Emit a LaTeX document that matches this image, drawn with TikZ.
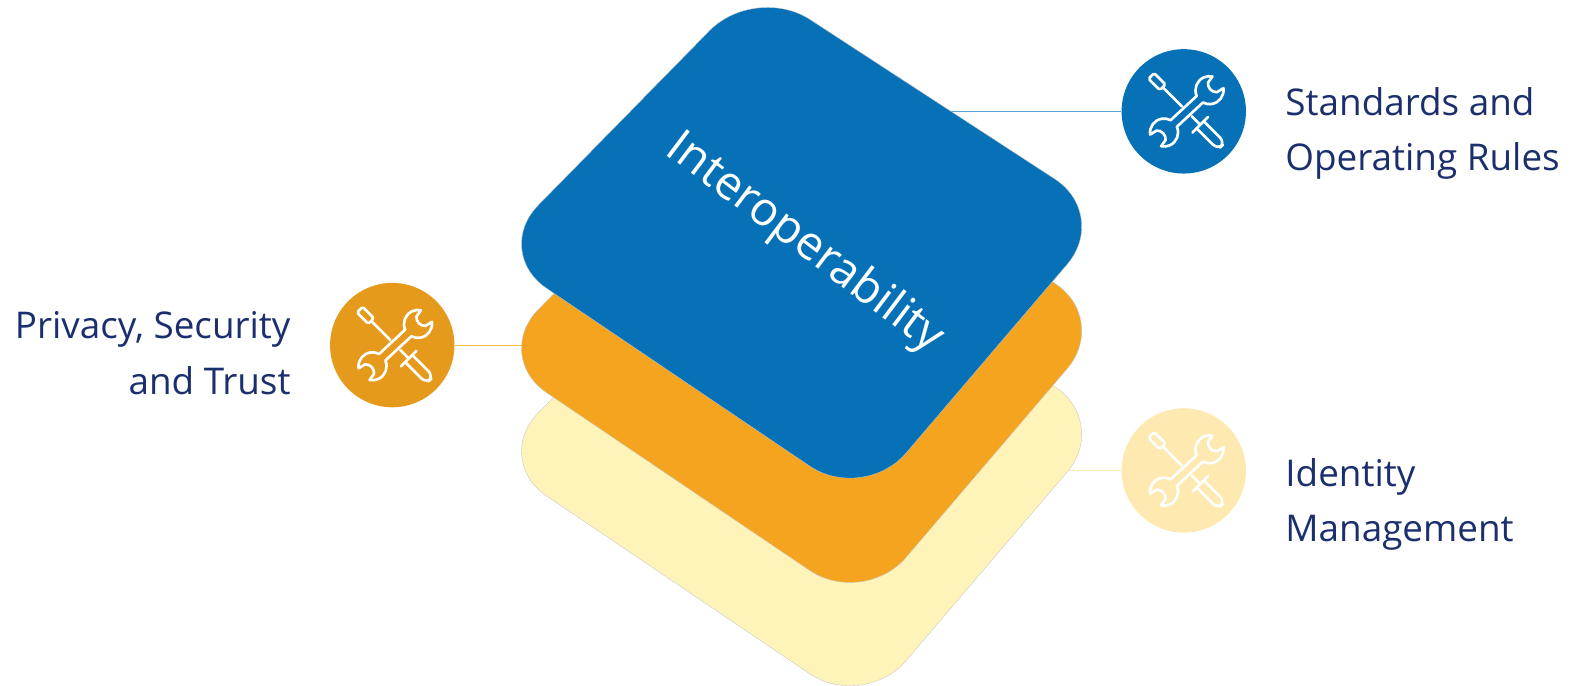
\documentclass[tikz,border=0pt]{standalone}
\usepackage{fontspec}
\setmainfont{Open Sans}
\definecolor{cardblue}{HTML}{0771B8}
\definecolor{cardorange}{HTML}{F4A41E}
\definecolor{cardyellow}{HTML}{FEF3B8}
\definecolor{circorange}{HTML}{E59A1C}
\definecolor{circyellow}{HTML}{FEE9B0}
\definecolor{labelnavy}{HTML}{1B2F6E}
\tikzset{
	card/.style={draw=gray!45,line width=0.2pt,rounded corners=1.3cm},
	toolcircle/.style={circle,minimum size=2.48cm,inner sep=0pt},
	link/.style={line width=0.6pt},
	sidelabel/.style={text=labelnavy,inner sep=0pt,font=\fontsize{20.9}{31.5}\selectfont},
	toolicon/.pic={
		\begin{scope}[x=0.02cm,y=0.02cm,xshift=0.06cm,white,line width=1.5pt,line join=round,line cap=round]
			% wrench
			\begin{scope}[rotate=43]
				\draw (17.7,4.5) arc[start angle=161,end angle=35,radius=14] -- (35,6.5) to[bend right=50] (35,-6.5) -- (42.5,-8)
					arc[start angle=-35,end angle=-161,radius=14] -- (-17.7,-4.5)
					arc[start angle=-19,end angle=-145,radius=14] -- (-35,-6.5) to[bend right=50] (-35,6.5) -- (-42.5,8)
					arc[start angle=145,end angle=19,radius=14] -- cycle;
			\end{scope}
			% screwdriver
			\begin{scope}[rotate=-45]
				\draw[rounded corners=1pt] (-50,-4) rectangle (-34,4);
				\draw (-34,0) -- (-7,0);
				\draw (7,0) -- (19,0);
				\draw (19,-11) -- (19,11);
				\draw[rounded corners=4pt] (19,-5) -- (49,-5) -- (49,5) -- (19,5);
			\end{scope}
		\end{scope}
	},
}
\begin{document}
\begin{tikzpicture}[x=0.02cm,y=-0.02cm]
	\useasboundingbox (0,0) rectangle (1568,683);

	% circles on both sides
	\node[toolcircle,fill=cardblue] (stdcircle) at (1180,111) {};
	\node[toolcircle,fill=circorange] (privcircle) at (391,344) {};
	\node[toolcircle,fill=circyellow] (idcircle) at (1180,469) {};

	\coordinate (stdend) at (945,111);
	\coordinate (privend) at (530,344);
	\coordinate (idend) at (1060,469);
	\draw[link,color=cardblue!65] (stdcircle) -- (stdend);
	\draw[link,color=cardorange!80] (privcircle) -- (privend);
	\draw[link,color=circyellow] (idcircle) -- (idend);

	% the three cards, lowest first
	\foreach \dy/\cardcol in {207/cardyellow,104/cardorange,0/cardblue}
		\draw[card,fill=\cardcol,shift={(0,\dy)}] (753,-16) -- (1106,214) -- (861,501) -- (491,251) -- cycle;

	\node[text=white,rotate=-37,font=\fontsize{26.5}{30}\selectfont] (title) at (802,243) {Interoperability};

	\pic at (stdcircle) {toolicon};
	\pic at (privcircle) {toolicon};
	\pic at (idcircle) {toolicon};

	\node[sidelabel,anchor=west,align=left] (stdlabel) at (1281,133) {Standards and\\Operating Rules};
	\node[sidelabel,anchor=east,align=right] (privlabel) at (290,352) {Privacy, Security\\and Trust};
	\node[sidelabel,anchor=west,align=left] (idlabel) at (1281,503) {Identity\\Management};
\end{tikzpicture}
\end{document}
